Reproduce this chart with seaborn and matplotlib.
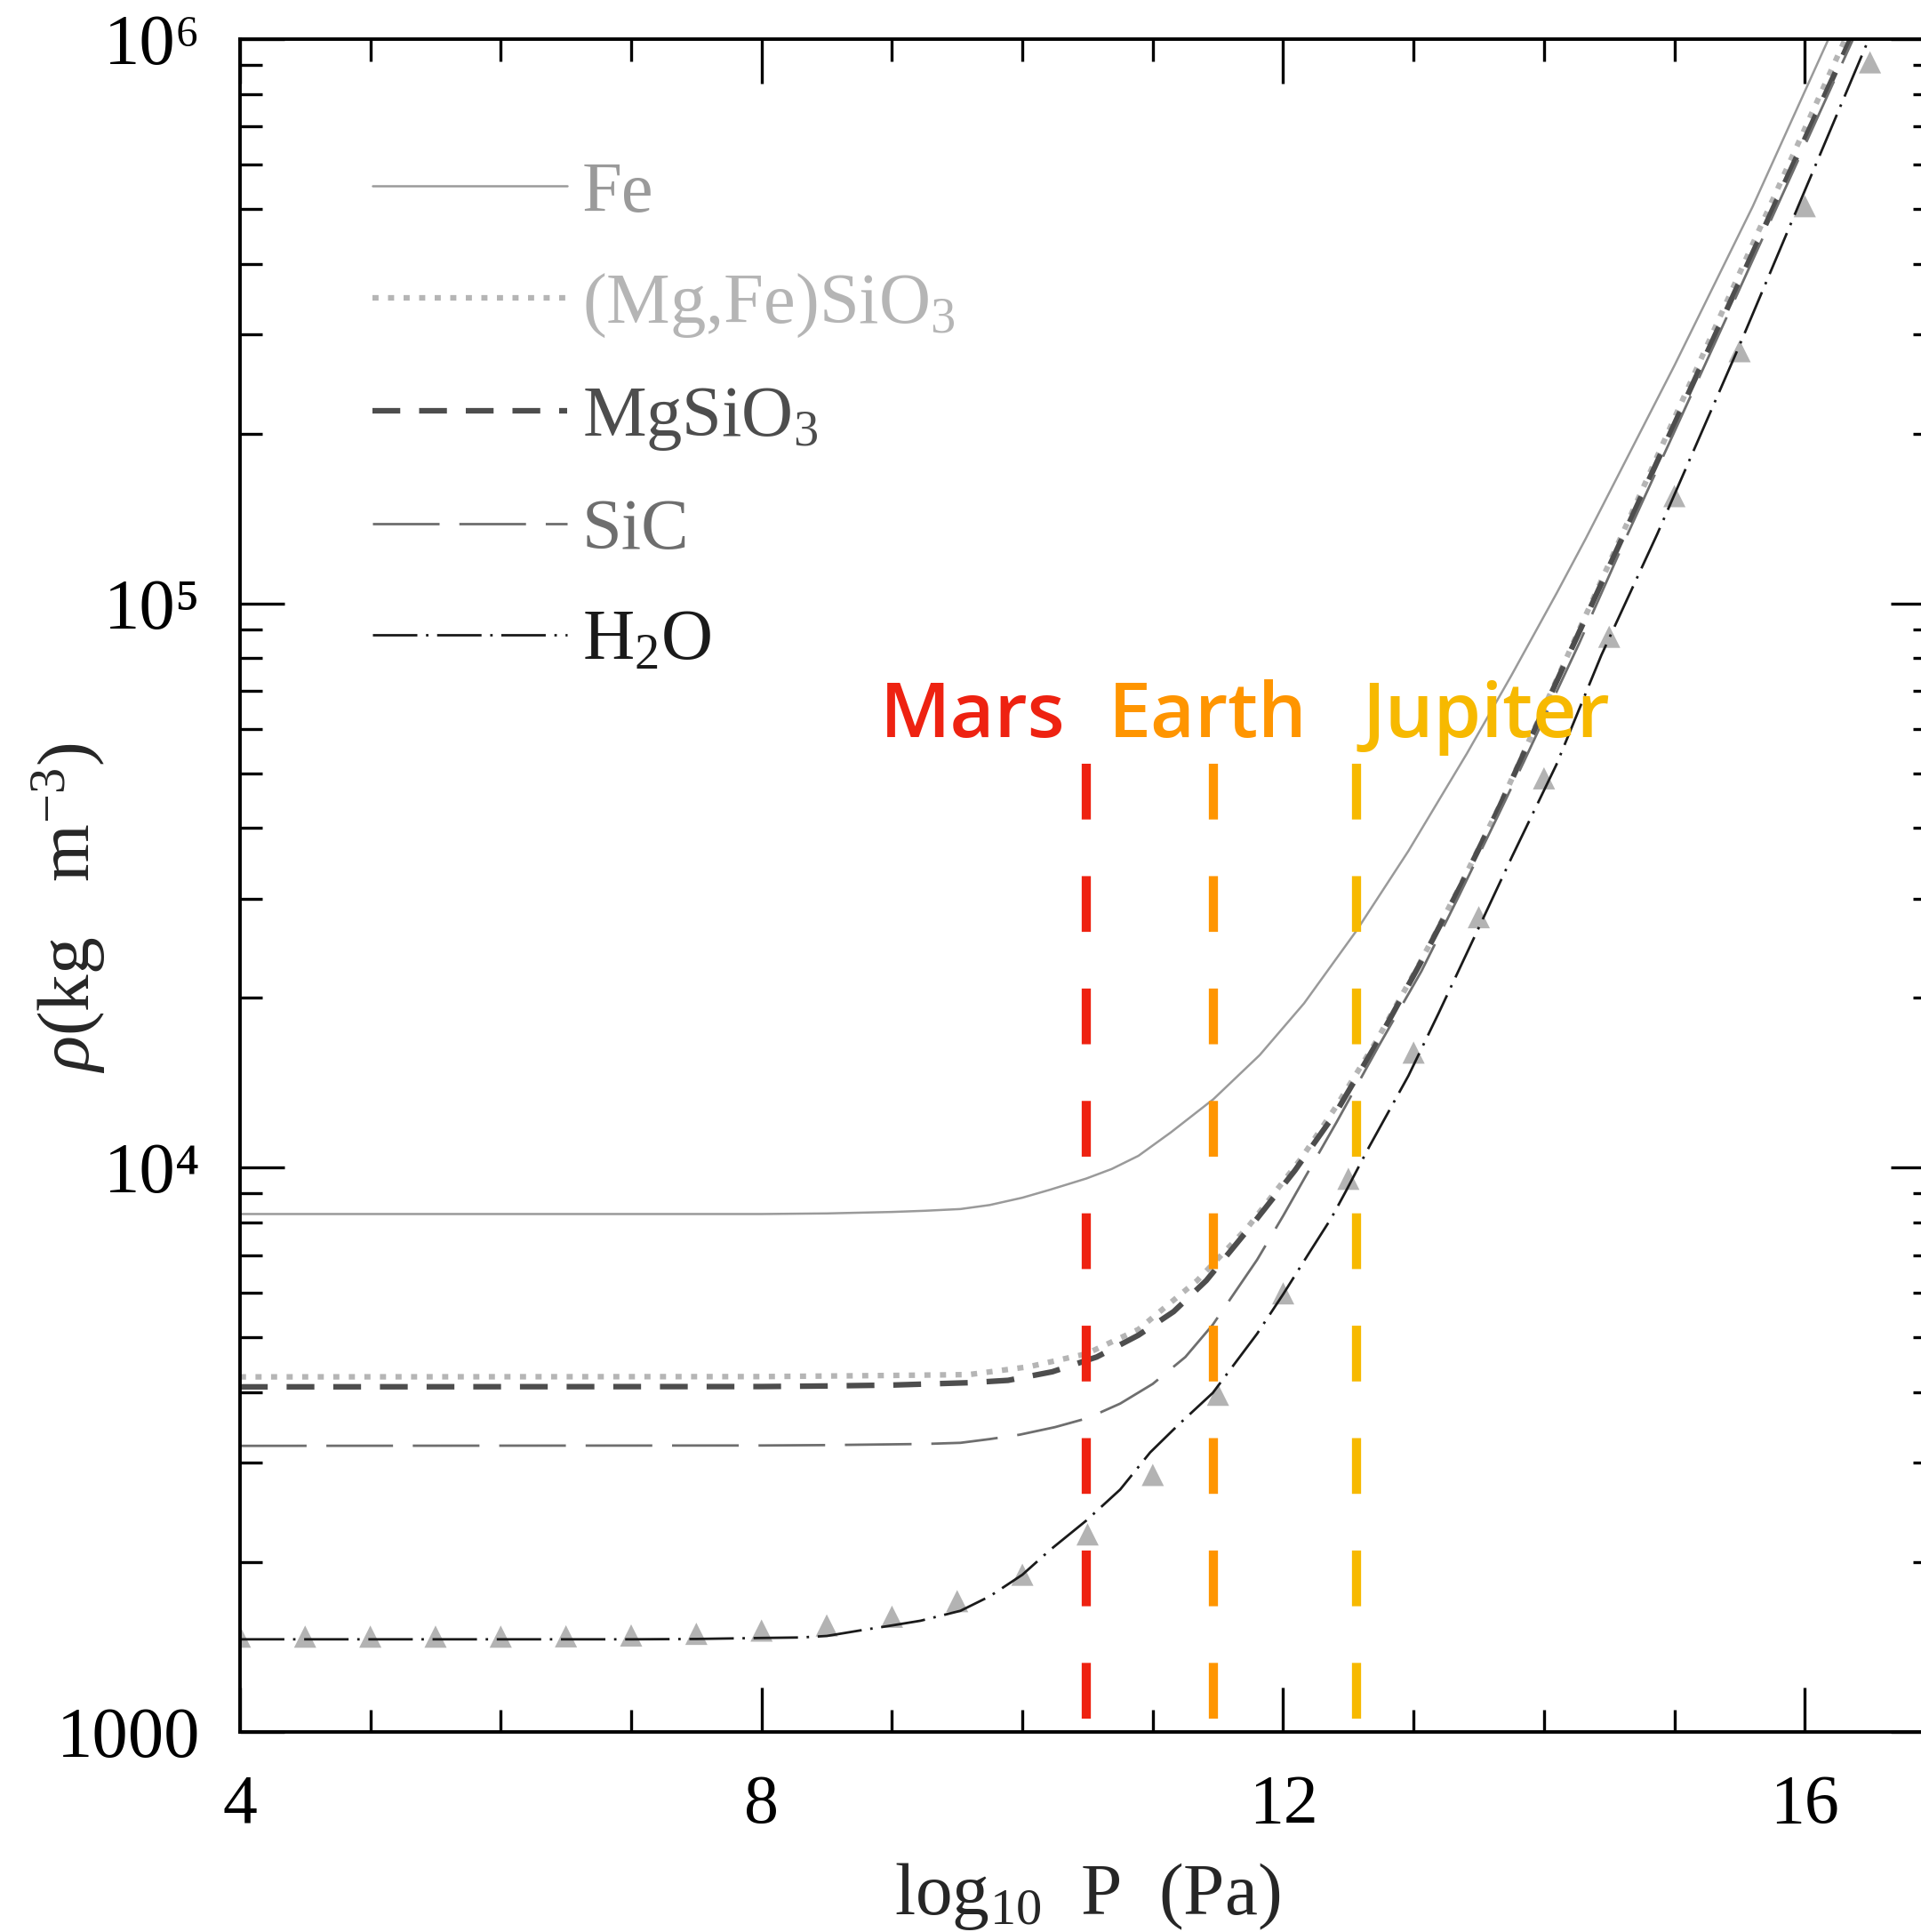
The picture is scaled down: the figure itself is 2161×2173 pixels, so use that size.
import numpy as np
import pandas as pd
import matplotlib
matplotlib.use("Agg")
import matplotlib.pyplot as plt
from matplotlib.ticker import LogLocator, NullFormatter, MultipleLocator
import seaborn as sns

sns.set_theme(style="ticks")
plt.rcParams['font.family'] = ['Liberation Serif', 'DejaVu Serif']
plt.rcParams['mathtext.fontset'] = 'custom'
plt.rcParams['mathtext.rm'] = 'Liberation Serif'
plt.rcParams['mathtext.it'] = 'Liberation Serif:italic'
plt.rcParams['axes.unicode_minus'] = False

# ---------- data: log10 P (Pa) vs density (kg m^-3) ----------
fe_logp = [4.0, 8.0, 8.5, 9.0, 9.25, 9.525, 9.75, 10.0, 10.21, 10.49, 10.685, 10.89, 11.14,
           11.465, 11.82, 12.16, 12.56, 12.96, 13.41, 13.75, 14.1, 14.32, 15.0, 15.6, 16.3]
fe_rho = [8280, 8280, 8300, 8350, 8390, 8450, 8590, 8850, 9140, 9570, 9950, 10500, 11560,
          13230, 15840, 19560, 26270, 36420, 54280, 74550, 104600, 130300, 264000, 505000, 1150000]

mgfe_logp = [4.0, 8.0, 8.5, 9.0, 9.59, 10.05, 10.49, 10.89, 11.34, 11.73, 12.14, 12.41, 12.71,
             13.05, 13.37, 13.66, 14.16, 14.55, 15.0, 15.5, 16.31, 16.45]
mgfe_rho = [4260, 4265, 4275, 4285, 4300, 4440, 4680, 5170, 6310, 7850, 10400, 12880, 16700,
            23100, 32000, 43800, 78900, 125000, 213000, 385000, 1000000, 1170000]

mg_logp = [4.0, 8.0, 8.5, 9.0, 9.59, 9.89, 10.23, 10.57, 10.89, 11.16, 11.41, 11.8, 12.09,
           12.41, 12.71, 13.05, 13.37, 13.66, 14.21, 15.0, 15.5, 16.35, 16.5]
mg_rho = [4090, 4095, 4105, 4120, 4160, 4200, 4350, 4620, 5050, 5560, 6310, 8130, 9890,
          12590, 16520, 23000, 31900, 43700, 83000, 208000, 372000, 1000000, 1190000]

sic_logp = [4.0, 8.0, 8.5, 9.0, 9.25, 9.525, 9.75, 9.98, 10.25, 10.5, 10.75, 11.0, 11.25,
            11.46, 11.8, 12.0, 12.17, 12.41, 12.73, 13.06, 13.35, 13.65, 13.845, 14.27, 14.63,
            15.5, 16.37, 16.5]
sic_rho = [3215, 3220, 3225, 3235, 3240, 3255, 3305, 3365, 3470, 3600, 3820, 4140, 4620,
           5270, 6870, 8220, 9640, 12050, 16400, 22300, 30400, 42200, 52400, 85000, 131000,
           361000, 1000000, 1160000]

h2o_logp = [4.0, 7.0, 7.5, 8.0, 8.3, 8.5, 8.78, 9.0, 9.22, 9.525, 9.75, 10.0, 10.21, 10.49,
            10.75, 10.98, 11.2, 11.46, 11.8, 12.0, 12.21, 12.37, 12.48, 12.66, 12.96, 13.19,
            13.5, 13.755, 14.095, 14.44, 14.87, 15.5, 16.49, 16.6]
h2o_rho = [1460, 1460, 1462, 1468, 1471, 1480, 1517, 1545, 1575, 1640, 1740, 1900, 2100, 2370,
           2690, 3130, 3510, 3990, 5080, 5970, 7130, 8150, 9080, 10900, 14550, 18750,
           26640, 35600, 51800, 81000, 133000, 287000, 1000000, 1150000]

tri_logp = [4.0, 4.5, 5.0, 5.5, 6.0, 6.5, 7.0, 7.5, 8.0, 8.5, 9.0, 9.5, 10.0, 10.5, 11.0,
            11.5, 12.0, 12.5, 13.0, 13.5, 14.0, 14.5, 15.0, 15.5, 16.0, 16.5]
tri_rho = [1476, 1476, 1476, 1476, 1476, 1478, 1483, 1493, 1513, 1545, 1601, 1706, 1900, 2240,
           2855, 3960, 5990, 9560, 16000, 27800, 49000, 87300, 155000, 280000, 506000, 910000]

planets = ['Mars', 'Earth', 'Jupiter']
planet_logp = [10.49, 11.465, 12.56]
planet_label_x = [8.91, 10.66, 12.61]
planet_colors = ['#ee2211', '#ff9500', '#f7b900']
planet_top = 5.2e4
label_rho = 5.8e4

ytick_vals = [1e3, 1e4, 1e5, 1e6]
ytick_labels = ['1000', '10\u2074', '10\u2075', '10\u2076']

curves = [
    ('Fe', fe_logp, fe_rho, '#9a9a9a', 1.8, '-'),
    ('(Mg,Fe)SiO$_3$', mgfe_logp, mgfe_rho, '#b5b5b5', 4.5, (0, (1.1, 1.7))),
    ('MgSiO$_3$', mg_logp, mg_rho, '#4d4d4d', 4.5, (0, (5, 3.4))),
    ('SiC', sic_logp, sic_rho, '#6e6e6e', 2.0, (0, (27, 8))),
    ('H$_2$O', h2o_logp, h2o_rho, '#1a1a1a', 2.0, (0, (18, 3.5, 1, 3.5))),
]

fig = plt.figure(figsize=(21.61, 21.73), dpi=100)
ax = fig.add_axes([0.1249, 0.1035, 0.8825, 0.8762])

for label, xs, ys, color, lw, ls in curves:
    d = pd.DataFrame({'logP': xs, 'rho': ys})
    sns.lineplot(data=d, x='logP', y='rho', ax=ax, color=color, linewidth=lw,
                 linestyle=ls, label=label, sort=False)

sns.scatterplot(x=tri_logp, y=tri_rho, ax=ax, marker='^', s=18**2, color='#b3b3b3',
                edgecolor='none', zorder=1)

for name, xp, lx, c in zip(planets, planet_logp, planet_label_x, planet_colors):
    ax.plot([xp, xp], [planet_top, 1000], color=c, lw=7.4, ls=(0, (6.1, 6.2)), zorder=3)
    ax.text(lx, label_rho, name, color=c, fontsize=62, fontweight='semibold',
            family=['Open Sans', 'Noto Sans', 'DejaVu Sans'], ha='left', va='baseline')

ax.set_yscale('log')
ax.set_xlim(4, 17)
ax.set_ylim(1000, 1e6)
ax.set_xticks([4, 8, 12, 16])
ax.set_xticklabels(['4', '8', '12', '16'])
ax.xaxis.set_minor_locator(MultipleLocator(1))
ax.set_yticks(ytick_vals)
ax.set_yticklabels(ytick_labels)
ax.yaxis.set_minor_locator(LogLocator(base=10, subs=np.arange(2, 10)))
ax.yaxis.set_minor_formatter(NullFormatter())

ax.tick_params(which='both', direction='in', top=True, right=True, width=2.4,
               colors='black')
ax.tick_params(axis='x', labelsize=56, pad=34)
ax.tick_params(axis='y', labelsize=58, pad=32)
ax.tick_params(which='major', length=36)
ax.tick_params(which='minor', length=18)
for s in ax.spines.values():
    s.set_linewidth(2.8)
    s.set_color('black')

ax.set_xlabel(r'log$_{10}$  P  (Pa)', fontsize=60)
ax.set_ylabel(r'$\rho$(kg   m$^{-3}$)', fontsize=60)
ax.xaxis.set_label_coords(0.5, -0.076)
ax.yaxis.set_label_coords(-0.078, 0.487)

ax.legend(loc='upper left', bbox_to_anchor=(0.078, 0.928), frameon=False, fontsize=58,
          handlelength=2.72, handletextpad=0.21, labelspacing=0.64, borderpad=0,
          borderaxespad=0, labelcolor='linecolor')

fig.savefig('out.png', dpi=100, facecolor='white')
